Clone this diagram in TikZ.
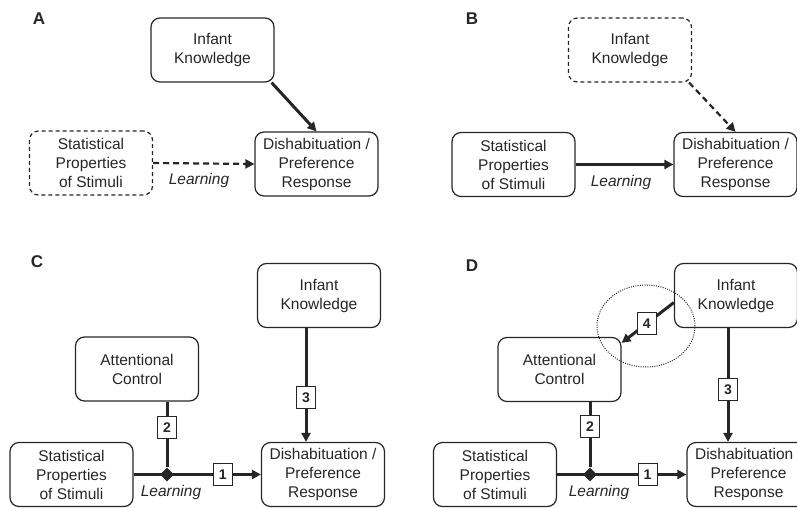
\documentclass[tikz,border=0pt]{standalone}
\usepackage{fontspec}
\setmainfont{Liberation Sans}
\usepackage{tikz}
\usetikzlibrary{positioning}
\usetikzlibrary{shapes.geometric}
\usetikzlibrary{arrows.meta}
\usepackage{xcolor}

\definecolor{ink}{gray}{0.15}
\newcommand{\boxfont}{\fontsize{15.5}{19}\selectfont}
\tikzset{
    box/.style={draw=ink, text=ink, rounded corners=9pt, line width=1.2pt,
        minimum width=123pt, minimum height=64pt, align=center, font=\boxfont},
    dbox/.style={box, dash pattern=on 4pt off 3pt},
    numbox/.style={draw=ink, fill=white, text=ink, line width=1pt, inner sep=0pt,
        minimum width=19pt, minimum height=22pt, font=\fontsize{14}{14}\selectfont\bfseries},
    flow/.style={draw=ink, line width=3pt, -{Triangle[length=9pt,width=9pt]}},
    dflow/.style={flow, line width=2.2pt, dash pattern=on 6pt off 4pt},
    link/.style={draw=ink, line width=3pt},
    learn/.style={diamond, fill=ink, minimum size=14pt, inner sep=0pt},
    tag/.style={text=ink, font=\fontsize{17}{17}\selectfont\bfseries},
    note/.style={text=ink, font=\boxfont\itshape}
}

\begin{document}
\begin{tikzpicture}[x=1pt, y=-1pt]
    \useasboundingbox (0,0) rectangle (797,508);
    \clip (0,0) rectangle (797,508);

    % A: knowledge drives the response
    \node[tag] (tagA) at (39,19) {A};
    \node[box] (ikA) at (212.5,50) {Infant\\Knowledge};
    \node[dbox] (statA) at (91,163) {Statistical\\Properties\\of Stimuli};
    \node[box] (dishA) at (316.5,164) {Dishabituation /\\Preference\\Response};
    \node[note] (lrnA) at (199,180) {Learning};
    \draw[flow] ([xshift=-3pt]ikA.south east) -- (dishA.north);
    \draw[dflow] (statA.east) -- (dishA.west);

    % B: learning drives the response
    \node[tag] (tagB) at (472,19) {B};
    \node[dbox] (ikB) at (630,50) {Infant\\Knowledge};
    \node[box] (statB) at (513.5,164.5) {Statistical\\Properties\\of Stimuli};
    \node[box] (dishB) at (735.5,164.5) {Dishabituation /\\Preference\\Response};
    \node[note] (lrnB) at (621,182) {Learning};
    \draw[dflow] ([xshift=-3pt]ikB.south east) -- (dishB.north);
    \draw[flow] (statB.east) -- (dishB.west);

    % C: three routes
    \node[tag] (tagC) at (37,262) {C};
    \node[box] (ikC) at (319,295.5) {Infant\\Knowledge};
    \node[box] (acC) at (137,369) {Attentional\\Control};
    \node[box] (statC) at (71.5,474.5) {Statistical\\Properties\\of Stimuli};
    \node[box] (dishC) at (323,474.5) {Dishabituation /\\Preference\\Response};
    \node[learn] (learnC) at (167,474.5) {};
    \node[note] (lrnC) at (171,492) {Learning};
    \draw[flow] (statC.east) -- (dishC.west) node[numbox, pos=0.7] {1};
    \draw[link] (acC.south -| learnC) -- (learnC) node[numbox, pos=0.4] {2};
    \draw[flow] ([xshift=-13pt]ikC.south) -- ([xshift=-13pt]ikC.south |- dishC.north)
        node[numbox, pos=0.61] {3};

    % D: knowledge also steers attention
    \node[tag] (tagD) at (472,266) {D};
    \node[box] (ikD) at (736,295.5) {Infant\\Knowledge};
    \node[box] (acD) at (559.5,369.5) {Attentional\\Control};
    \node[box] (statD) at (495,474.5) {Statistical\\Properties\\of Stimuli};
    \node[box] (dishD) at (748.5,474.5) {Dishabituation\hphantom{~/}\\Preference\\Response};
    \node[learn] (learnD) at (590,474.5) {};
    \node[note] (lrnD) at (599,492) {Learning};
    \node[ellipse, draw=ink, line width=1pt, dash pattern=on 1pt off 1.3pt,
        minimum width=98pt, minimum height=82pt] (focusD) at (646,326) {};
    \draw[flow] (statD.east) -- (dishD.west) node[numbox, pos=0.7] {1};
    \draw[link] (acD.south -| learnD) -- (learnD) node[numbox, pos=0.38] {2};
    \draw[flow] ([xshift=-8pt]ikD.south) -- ([xshift=-8pt]ikD.south |- dishD.north)
        node[numbox, pos=0.54] {3};
    \draw[flow] ([yshift=-7pt]ikD.west) -- ([yshift=-6pt]acD.north east)
        node[numbox, pos=0.52] {4};
\end{tikzpicture}
\end{document}
